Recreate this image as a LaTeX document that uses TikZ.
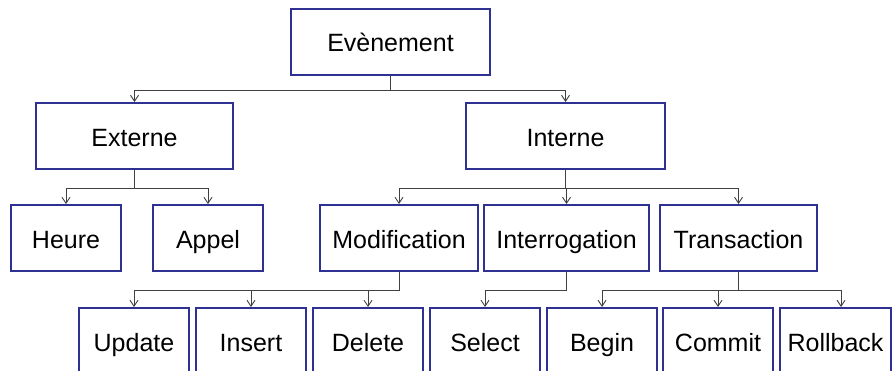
\documentclass[tikz,border=0pt]{standalone}
\usepackage{fontspec}
\setmainfont{Liberation Sans}
\usepackage{xcolor}
\usepackage{tikz}
\usetikzlibrary{arrows.meta}

\definecolor{boxblue}{RGB}{46,48,146}

\begin{document}
\begin{tikzpicture}[x=1pt,y=-1pt,
    box/.style={draw=boxblue,line width=2pt,fill=white,minimum height=66pt,inner sep=0pt,
        text height=23pt,text depth=3pt,font=\fontsize{25}{30}\selectfont},
    conn/.style={draw=black!75,line width=0.9pt,-{Straight Barb[length=6pt,width=8pt]}}]
    \clip (0,0) rectangle (895,370);
    \fill[white] (0,0) rectangle (895,370);

    % Levels
    \node[box,minimum width=199pt] (evt) at (390.5,41.5) {Evènement};
    \node[box,minimum width=197pt] (ext) at (134.5,136) {Externe};
    \node[box,minimum width=199pt] (int) at (565.5,136) {Interne};

    \node[box,minimum width=110pt] (heure) at (66,238) {Heure};
    \node[box,minimum width=110pt] (appel) at (208,238) {Appel};
    \node[box,minimum width=158pt] (modif) at (399,238) {Modification};
    \node[box,minimum width=165pt] (interro) at (566.5,238) {Interrogation};
    \node[box,minimum width=157pt] (trans) at (738.5,238) {Transaction};

    \node[box,minimum width=110pt] (update) at (134,341) {Update};
    \node[box,minimum width=110pt] (insert) at (251,341) {Insert};
    \node[box,minimum width=110pt] (delete) at (368,341) {Delete};
    \node[box,minimum width=110pt] (select) at (485,341) {Select};
    \node[box,minimum width=110pt] (begin) at (602,341) {Begin};
    \node[box,minimum width=110pt] (commit) at (718,341) {Commit};
    \node[box,minimum width=111pt] (rollback) at (835.5,341) {Rollback};

    % Connectors
    \draw[conn] (evt.south) -- ++(0,15) -| (ext.north);
    \draw[conn] (evt.south) -- ++(0,15) -| (int.north);

    \draw[conn] (ext.south) -- ++(0,18) -| (heure.north);
    \draw[conn] (ext.south) -- ++(0,18) -| (appel.north);

    \draw[conn] (int.south) -- ++(0,18) -| (modif.north);
    \draw[conn] (int.south) -- ++(0,18) -| (interro.north);
    \draw[conn] (int.south) -- ++(0,18) -| (trans.north);

    \draw[conn] (modif.south) -- ++(0,18) -| (update.north);
    \draw[conn] (modif.south) -- ++(0,18) -| (insert.north);
    \draw[conn] (modif.south) -- ++(0,18) -| (delete.north);

    \draw[conn] (interro.south) -- ++(0,18) -| (select.north);

    \draw[conn] (trans.south) -- ++(0,18) -| (begin.north);
    \draw[conn] (trans.south) -- ++(0,18) -| (commit.north);
    \draw[conn] (trans.south) -- ++(0,18) -| ([xshift=5.5pt]rollback.north);
\end{tikzpicture}
\end{document}
